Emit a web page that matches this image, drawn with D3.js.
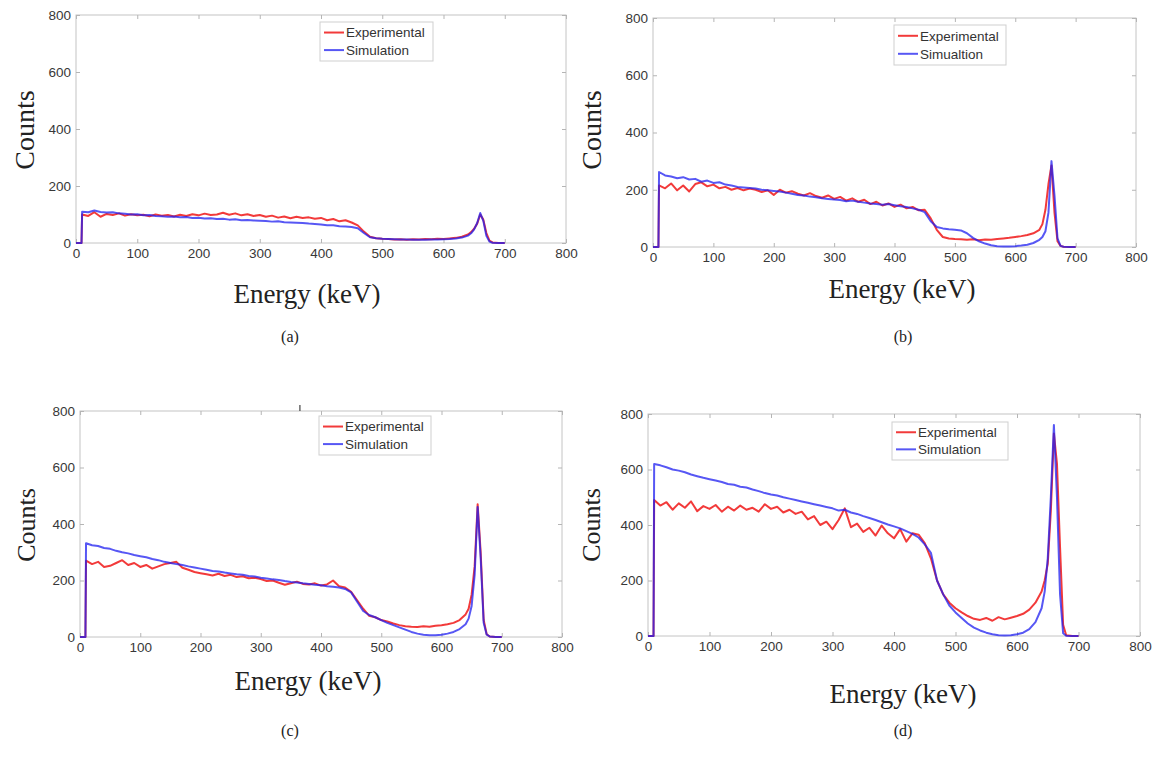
<!DOCTYPE html>
<html>
<head>
<meta charset="utf-8">
<title>Spectra comparison</title>
<style>
    body { margin: 0; background: #fff; }
    .tick text { font: 13.5px "Liberation Sans", Arial, sans-serif; fill: #383838; }
    .tick line { stroke: #b5b5b5; }
    .frame { fill: none; stroke: #c4c4c4; stroke-width: 1px; }
    .serif { font-family: "Liberation Serif", "Times New Roman", serif; fill: #222; }
    .legend text { font: 13.5px "Liberation Sans", Arial, sans-serif; fill: #333; }
</style>
</head>
<body>
<script src="https://cdnjs.cloudflare.com/ajax/libs/d3/7.8.5/d3.min.js"></script>
<script>
    // Energy grid (keV) shared by every spectrum
    const energy = [0, 9, 10, 20, 30, 40, 50, 60, 70, 80, 90,
        100, 110, 120, 130, 140, 150, 160, 170, 180, 190,
        200, 210, 220, 230, 240, 250, 260, 270, 280, 290,
        300, 310, 320, 330, 340, 350, 360, 370, 380, 390,
        400, 410, 420, 430, 440, 450, 460, 470, 480, 490,
        500, 510, 520, 530, 540, 550, 560, 570, 580, 590,
        600, 610, 620, 630, 640, 645, 650, 655, 660, 665, 670, 675, 680, 690, 700];

    const expA = [0, 0, 100, 95, 108, 92, 102, 98, 104, 96, 101,
        97, 99, 94, 100, 96, 98, 93, 99, 95, 101,
        97, 103, 98, 100, 106, 99, 104, 97, 101, 95,
        98, 92, 96, 89, 93, 87, 92, 88, 90, 85,
        88, 80, 84, 76, 80, 72, 62, 40, 22, 17,
        15, 14, 12, 13, 11, 13, 12, 14, 13, 15,
        14, 16, 18, 22, 30, 38, 50, 68, 100, 82, 35, 8, 2, 0, 0];
    const simA = [0, 0, 110, 108, 114, 109, 107, 108, 104, 103, 100,
        101, 97, 98, 95, 94, 92, 93, 90, 91, 88,
        89, 86, 87, 84, 85, 82, 83, 80, 81, 79,
        78, 77, 75, 76, 73, 72, 71, 70, 68, 67,
        65, 62, 62, 59, 58, 56, 52, 35, 20, 17,
        15, 14, 13, 12, 12, 11, 11, 11, 12, 12,
        13, 14, 16, 19, 26, 34, 48, 70, 105, 78, 25, 5, 1, 0, 0];

    const expB = [0, 0, 215, 205, 222, 198, 215, 194, 220, 226, 212,
        218, 205, 210, 200, 206, 198, 204, 200, 192, 198,
        182, 200, 190, 195, 186, 180, 188, 178, 172, 180,
        168, 175, 162, 170, 158, 165, 150, 158, 145, 152,
        140, 148, 135, 140, 128, 130, 100, 60, 35, 30,
        28, 27, 25, 27, 24, 26, 25, 28, 30, 32,
        35, 38, 42, 48, 60, 80, 130, 220, 285, 120, 20, 4, 1, 0, 0];
    const simB = [0, 0, 262, 250, 246, 240, 244, 236, 238, 228, 232,
        224, 226, 218, 215, 210, 208, 206, 204, 200, 198,
        196, 194, 190, 186, 182, 180, 176, 174, 170, 168,
        166, 164, 160, 162, 158, 155, 152, 150, 148, 150,
        146, 142, 140, 135, 130, 122, 90, 70, 65, 62,
        60, 58, 48, 32, 20, 12, 6, 3, 2, 2,
        3, 5, 8, 14, 25, 35, 55, 120, 300, 180, 30, 4, 1, 0, 0];

    const expC = [0, 0, 270, 258, 266, 248, 252, 262, 272, 255, 262,
        248, 255, 242, 250, 258, 262, 266, 245, 238, 230,
        226, 222, 218, 224, 216, 220, 212, 215, 208, 210,
        205, 198, 200, 192, 185, 190, 196, 188, 186, 190,
        182, 186, 200, 180, 175, 160, 130, 100, 75, 70,
        60, 55, 48, 42, 38, 36, 35, 38, 36, 40,
        42, 45, 50, 60, 80, 100, 150, 250, 470, 300, 60, 10, 2, 0, 0];
    const simC = [0, 0, 332, 325, 322, 315, 312, 305, 300, 296, 290,
        286, 282, 276, 272, 266, 262, 258, 255, 250, 246,
        242, 238, 234, 232, 228, 225, 222, 220, 216, 214,
        210, 207, 204, 202, 198, 195, 193, 190, 188, 185,
        183, 180, 178, 175, 170, 158, 125, 92, 78, 70,
        60, 50, 42, 34, 26, 18, 12, 8, 6, 6,
        8, 12, 18, 28, 45, 65, 110, 220, 460, 280, 50, 8, 2, 0, 0];

    const expD = [0, 0, 490, 470, 482, 455, 478, 462, 485, 450, 468,
        458, 472, 448, 466, 452, 470, 455, 462, 448, 475,
        458, 466, 445, 455, 440, 448, 420, 432, 400, 412,
        385, 418, 460, 392, 405, 375, 390, 362, 398, 370,
        352, 385, 340, 370, 365, 335, 280, 200, 150, 120,
        100, 85, 72, 62, 58, 65, 55, 68, 60, 66,
        72, 80, 95, 120, 160, 200, 260, 450, 730, 620, 320, 40, 3, 0, 0];
    const simD = [0, 0, 620, 615, 608, 600, 596, 590, 582, 576, 570,
        565, 560, 555, 548, 545, 538, 535, 528, 522, 515,
        510, 506, 500, 495, 490, 485, 480, 475, 470, 465,
        460, 452, 455, 445, 440, 432, 425, 418, 410, 402,
        395, 388, 378, 368, 355, 330, 300, 200, 150, 110,
        85, 65, 45, 30, 20, 12, 6, 3, 2, 3,
        6, 12, 25, 50, 100, 160, 280, 500, 760, 500, 150, 10, 1, 0, 0];

    const xTicks = [0, 100, 200, 300, 400, 500, 600, 700, 800];
    const yTicks = [0, 200, 400, 600, 800];
    const seriesNames = ["Experimental", "Simulation"];
    const seriesNamesB = ["Experimental", "Simualtion"];
    const captions = ["(a)", "(b)", "(c)", "(d)"];

    const colors = ["#f01818", "#1f1ff0"];
    const opac = [0.85, 0.75];

    // Layout of the four panels (pixel positions of each plot box)
    const panels = [
        {x0: 76, x1: 566, y0: 243, y1: 15, exp: expA, sim: simA, names: seriesNames,
         leg: {x: 320, y: 22, w: 113, h: 39}, ylab: [24, 130], xlab: [307, 303], cap: [290, 342]},
        {x0: 653, x1: 1136, y0: 247, y1: 18, exp: expB, sim: simB, names: seriesNamesB,
         leg: {x: 894, y: 25, w: 112, h: 40}, ylab: [591, 130], xlab: [902, 298], cap: [903, 342]},
        {x0: 80, x1: 562, y0: 637, y1: 411, exp: expC, sim: simC, names: seriesNames,
         leg: {x: 319, y: 416, w: 112, h: 39}, ylab: [26, 525], xlab: [308, 690], cap: [290, 736]},
        {x0: 648, x1: 1140, y0: 636, y1: 414, exp: expD, sim: simD, names: seriesNames,
         leg: {x: 892, y: 422, w: 116, h: 38}, ylab: [591, 525], xlab: [903, 703], cap: [903, 736]}
    ];

    const svg = d3.select("body").append("svg")
        .attr("width", 1156)
        .attr("height", 765);

    panels.forEach((p, i) => {
        const x = d3.scaleLinear().domain([0, 800]).range([p.x0, p.x1]);
        const y = d3.scaleLinear().domain([0, 800]).range([p.y0, p.y1]);
        const g = svg.append("g");

        // frame
        g.append("rect").attr("class", "frame")
            .attr("x", p.x0).attr("y", p.y1)
            .attr("width", p.x1 - p.x0).attr("height", p.y0 - p.y1);

        // axes, ticks pointing inward on all four sides
        const bottom = g.append("g").attr("transform", `translate(0,${p.y0})`)
            .call(d3.axisBottom(x).tickValues(xTicks).tickSize(-4).tickPadding(4));
        g.append("g").attr("transform", `translate(${p.x0},0)`)
            .call(d3.axisLeft(y).tickValues(yTicks).tickSize(-4).tickPadding(5));
        g.append("g").attr("transform", `translate(0,${p.y1})`)
            .call(d3.axisTop(x).tickValues(xTicks).tickSize(-4).tickFormat(""));
        g.append("g").attr("transform", `translate(${p.x1},0)`)
            .call(d3.axisRight(y).tickValues(yTicks).tickSize(-4).tickFormat(""));
        g.selectAll(".domain").remove();
        bottom.selectAll("text").attr("dy", "0.85em");

        // spectra
        const line = d3.line().x((d, k) => x(energy[k])).y(d => y(d));
        [p.exp, p.sim].forEach((s, k) => {
            g.append("path").datum(s)
                .attr("fill", "none")
                .attr("stroke", colors[k])
                .attr("stroke-opacity", opac[k])
                .attr("stroke-width", 2)
                .attr("stroke-linejoin", "round")
                .attr("d", line);
        });

        // legend
        const lg = g.append("g").attr("class", "legend");
        lg.append("rect")
            .attr("x", p.leg.x).attr("y", p.leg.y)
            .attr("width", p.leg.w).attr("height", p.leg.h)
            .attr("fill", "#fff").attr("stroke", "#cfcfcf");
        p.names.forEach((n, k) => {
            const ly = p.leg.y + p.leg.h * (k === 0 ? 0.27 : 0.72);
            lg.append("line")
                .attr("x1", p.leg.x + 4).attr("x2", p.leg.x + 24)
                .attr("y1", ly).attr("y2", ly)
                .attr("stroke", colors[k]).attr("stroke-opacity", opac[k])
                .attr("stroke-width", 2);
            lg.append("text")
                .attr("x", p.leg.x + 26).attr("y", ly)
                .attr("dy", "0.35em")
                .text(n);
        });

        // small stray mark above panel (c), as in the scan
        if (i === 2) {
            g.append("line")
                .attr("x1", x(365)).attr("x2", x(365))
                .attr("y1", p.y1 - 6).attr("y2", p.y1)
                .attr("stroke", "#444").attr("stroke-width", 1.2);
        }

        // axis titles
        g.append("text").attr("class", "serif")
            .attr("transform", `translate(${p.ylab[0]},${p.ylab[1]}) rotate(-90)`)
            .attr("text-anchor", "middle")
            .attr("dy", "0.35em")
            .style("font-size", i < 2 ? "28px" : "26px")
            .text("Counts");
        g.append("text").attr("class", "serif")
            .attr("x", p.xlab[0]).attr("y", p.xlab[1])
            .attr("text-anchor", "middle")
            .style("font-size", "27px")
            .text("Energy (keV)");

        // sub caption
        g.append("text").attr("class", "serif")
            .attr("x", p.cap[0]).attr("y", p.cap[1])
            .attr("text-anchor", "middle")
            .style("font-size", "16px")
            .text(captions[i]);
    });
</script>
</body>
</html>
